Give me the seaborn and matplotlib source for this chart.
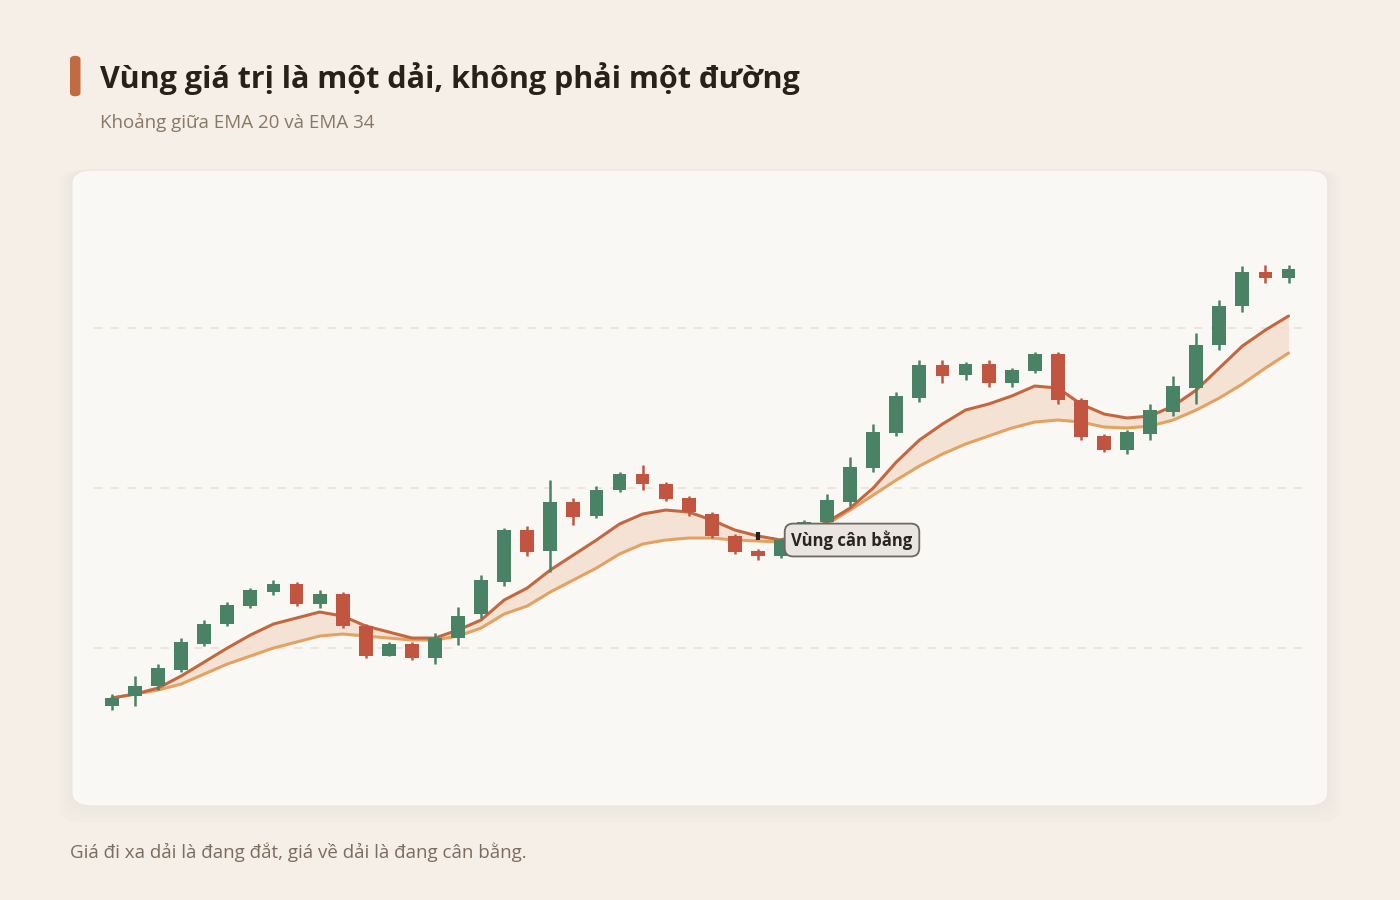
import matplotlib.pyplot as plt
import seaborn as sns
import pandas as pd
import numpy as np
from matplotlib.patches import FancyBboxPatch

sns.set_theme(style="white")
plt.rcParams['font.family'] = ['Open Sans', 'Noto Sans', 'DejaVu Sans']

# Candles (price units)
opens = [19.4, 20.4, 21.4, 23.0, 25.6, 27.6, 29.4, 30.8, 31.6, 29.6, 30.6, 27.4,
         24.4, 25.6, 24.2, 26.2, 28.6, 31.8, 37.0, 34.9, 39.8, 38.4, 41.0, 42.6,
         41.6, 40.2, 38.6, 36.4, 34.9, 34.4, 36.0, 37.8, 39.8, 43.2, 46.7, 50.2,
         53.5, 52.5, 53.6, 51.7, 52.9, 54.6, 50.0, 46.4, 45.0, 46.6, 48.8, 51.2,
         55.5, 59.4, 62.8, 62.2]
closes = [20.2, 21.4, 23.2, 25.8, 27.6, 29.5, 31.0, 31.6, 29.6, 30.6, 27.4, 24.4,
          25.6, 24.2, 26.2, 28.4, 32.0, 37.0, 34.8, 39.8, 38.3, 41.0, 42.6, 41.6,
          40.1, 38.8, 36.4, 34.8, 34.4, 36.0, 37.8, 40.0, 43.3, 46.8, 50.4, 53.5,
          52.4, 53.6, 51.7, 53.0, 54.6, 50.0, 46.3, 45.0, 46.8, 49.0, 51.4, 55.5,
          59.4, 62.8, 62.2, 63.1]
highs = [20.6, 22.4, 23.6, 26.2, 28.0, 29.8, 31.2, 32.0, 31.8, 31.0, 30.8, 27.6,
         25.8, 25.8, 26.7, 29.3, 32.5, 37.2, 37.4, 42.0, 40.2, 41.4, 42.8, 43.5,
         41.8, 40.4, 38.8, 36.6, 35.1, 36.2, 38.0, 40.6, 44.3, 47.6, 50.8, 54.0,
         54.0, 53.8, 54.0, 53.2, 54.8, 54.8, 50.2, 46.6, 47.0, 49.6, 52.4, 56.7,
         60.0, 63.4, 63.5, 63.5]
lows = [19.0, 19.4, 21.0, 22.8, 25.4, 27.4, 29.2, 30.5, 29.4, 29.2, 27.2, 24.2,
        24.4, 24.0, 23.6, 25.5, 28.2, 31.4, 34.4, 32.8, 37.5, 38.2, 40.8, 41.0,
        39.9, 38.4, 36.2, 34.6, 34.0, 34.2, 35.8, 37.6, 39.4, 42.8, 46.4, 49.8,
        51.7, 52.0, 51.3, 51.3, 52.7, 49.6, 46.0, 44.8, 44.6, 46.0, 48.4, 49.6,
        55.0, 58.8, 61.7, 61.7]

ema_fast = [20.2, 20.6, 21.2, 22.4, 23.8, 25.2, 26.5, 27.6, 28.2, 28.8, 28.4, 27.4,
            26.8, 26.2, 26.2, 27.0, 28.0, 30.0, 31.2, 33.0, 34.5, 36.0, 37.6, 38.6,
            39.0, 38.8, 38.0, 37.0, 36.4, 36.0, 36.8, 37.8, 39.2, 41.2, 43.8, 46.0,
            47.6, 49.0, 49.6, 50.4, 51.4, 51.2, 49.6, 48.6, 48.2, 48.4, 49.4, 51.0,
            53.2, 55.4, 57.0, 58.4]
ema_slow = [20.2, 20.6, 21.0, 21.6, 22.6, 23.6, 24.4, 25.2, 25.8, 26.4, 26.6, 26.4,
            26.2, 26.0, 26.0, 26.4, 27.2, 28.6, 29.4, 30.8, 32.0, 33.2, 34.6, 35.6,
            36.0, 36.2, 36.2, 36.0, 35.9, 35.8, 36.4, 37.6, 39.0, 40.5, 42.0, 43.4,
            44.6, 45.6, 46.4, 47.2, 47.8, 48.0, 47.8, 47.3, 47.2, 47.4, 48.0, 49.0,
            50.2, 51.6, 53.2, 54.7]

grid_levels = [57.2, 41.2, 25.2]
anchor_idx = 28

title = "Vùng giá trị là một dải, không phải một đường"
subtitle = "Khoảng giữa EMA 20 và EMA 34"
footer = "Giá đi xa dải là đang đắt, giá về dải là đang cân bằng."
label = "Vùng cân bằng"

UP = "#4a8266"
DOWN = "#c2553f"
FAST = "#c4673f"
SLOW = "#e3a262"

df = pd.DataFrame({"i": np.arange(len(opens)), "open": opens, "close": closes,
                   "high": highs, "low": lows, "fast": ema_fast, "slow": ema_slow})

fig = plt.figure(figsize=(14, 9), dpi=100)
fig.patch.set_facecolor("#f5efe8")

# card with soft shadow
for k, a in enumerate([0.025, 0.02, 0.015]):
    pad = 0.006 * (3 - k)
    fig.patches.append(FancyBboxPatch((0.0514 - pad / 2, 0.1044 - pad), 0.897 + pad, 0.7067 + pad,
                                      boxstyle="round,pad=0,rounding_size=0.015",
                                      transform=fig.transFigure, facecolor="#b09880",
                                      edgecolor="none", alpha=a, zorder=0))
fig.patches.append(FancyBboxPatch((0.0514, 0.1044), 0.897, 0.7067,
                                  boxstyle="round,pad=0,rounding_size=0.015",
                                  transform=fig.transFigure, facecolor="#faf8f5",
                                  edgecolor="#ece4da", linewidth=0.8, zorder=1))

ax = fig.add_axes([0.0514, 0.1044, 0.897, 0.7067])
ax.set_zorder(10)
ax.set_facecolor("none")
ax.set_xlim(-1.734, 52.7)
ax.set_ylim(9.4, 73.0)
ax.axis("off")

for g in grid_levels:
    ax.hlines(g, -0.78, 51.6, colors="#ebe1d6", linestyles=(0, (5, 5)), linewidth=1.2, zorder=1)

ax.fill_between(df["i"], df["fast"], df["slow"], color="#f3ddc9", alpha=0.75, zorder=2, linewidth=0)
sns.lineplot(data=df, x="i", y="slow", color=SLOW, linewidth=2.2, ax=ax, zorder=3)
sns.lineplot(data=df, x="i", y="fast", color=FAST, linewidth=2.2, ax=ax, zorder=3)

colors = [UP if c >= o else DOWN for o, c in zip(df["open"], df["close"])]
ax.vlines(df["i"], df["low"], df["high"], colors=colors, linewidth=1.8, zorder=4)
bottoms = np.minimum(df["open"], df["close"])
heights = np.abs(df["close"] - df["open"]).clip(lower=0.5)
ax.bar(df["i"], heights, bottom=bottoms, width=0.6, color=colors, zorder=5, linewidth=0)

ax.vlines(anchor_idx, df["fast"][anchor_idx] - 0.4, df["fast"][anchor_idx] + 0.4,
          colors="#222222", linewidth=3, zorder=6)
ax.annotate(label, xy=(anchor_idx, df["fast"][anchor_idx]), xytext=(anchor_idx + 1.45, 36.0),
            fontsize=12, fontweight="bold", color="#2a2420", va="center", ha="left", zorder=7,
            bbox=dict(boxstyle="round,pad=0.4,rounding_size=0.5", facecolor="#e9e5e0",
                      edgecolor="#6e6862", linewidth=1.3))

# header
fig.patches.append(FancyBboxPatch((0.050, 0.893), 0.0075, 0.045,
                                  boxstyle="round,pad=0,rounding_size=0.004",
                                  transform=fig.transFigure, facecolor="#c26a40",
                                  edgecolor="none", zorder=2))
fig.text(0.0714, 0.913, title, fontsize=22, fontweight="bold", color="#2a201a", va="center")
fig.text(0.0714, 0.864, subtitle, fontsize=13.5, color="#8a7866", va="center")
fig.text(0.050, 0.053, footer, fontsize=13.5, color="#7c6c60", va="center")

fig.savefig("out.png", dpi=100, facecolor=fig.get_facecolor())
